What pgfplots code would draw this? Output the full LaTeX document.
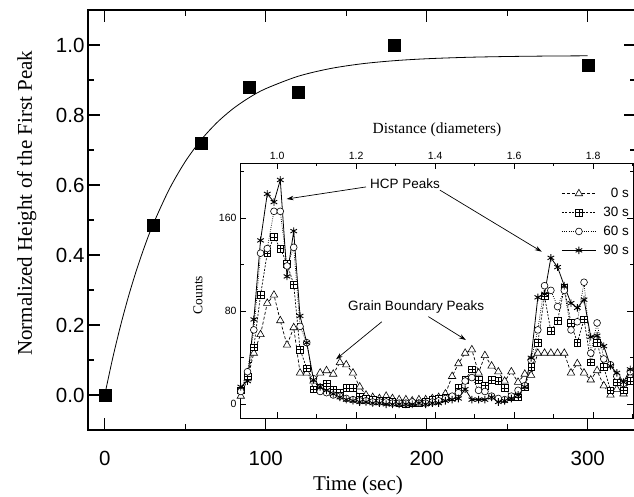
\documentclass[border=0pt]{standalone}
\usepackage{fontspec}
\setmainfont{Liberation Serif}
\setsansfont{Liberation Sans}
\usepackage{pgfplots}
\usepackage{pgfplotstable}
\pgfplotsset{compat=1.18}
\usetikzlibrary{arrows.meta}

% square with a plus inside (Origin style)
\pgfdeclareplotmark{boxplus}{%
  \pgfpathrectangle{\pgfpoint{-\pgfplotmarksize}{-\pgfplotmarksize}}{\pgfpoint{2\pgfplotmarksize}{2\pgfplotmarksize}}%
  \pgfusepathqfillstroke
  \pgfpathmoveto{\pgfpoint{-\pgfplotmarksize}{0pt}}\pgfpathlineto{\pgfpoint{\pgfplotmarksize}{0pt}}%
  \pgfpathmoveto{\pgfpoint{0pt}{-\pgfplotmarksize}}\pgfpathlineto{\pgfpoint{0pt}{\pgfplotmarksize}}%
  \pgfusepathqstroke}

% inset: counts vs distance, for 0, 30, 60, 90 s
\pgfplotstableread{
d     s0  s30 s60 s90
0.908  7  12  11  15
0.925 22  24  28  20
0.941 44  49  64  73
0.958 60  94 130 141
0.975 87 130 134 181
0.992 94 144 166 174
1.008 72 134 166 193
1.025 51 121 119 110
1.042 66 103 135 149
1.058 27  47  67  76
1.075 27  31  53  53
1.092 20  13  22  21
1.109 27  14  11  15
1.125 29  18  10  12
1.142 26  13   8   9
1.159 36  10   7   6
1.175 34  14   5   4
1.192 27  14   4   3
1.209 15   7   3   2
1.225  8   5   3   2
1.242  6   4   2   1
1.259  5   3   2   1
1.276  7   3   2   0
1.292  5   2   1   0
1.309  4   1   1   0
1.326  4   0   1   0
1.342  3   1   2   0
1.359  4   1   1   1
1.376  4   2   1   0
1.393  5   4   2   1
1.409  6   5   3   1
1.426  9   6   5   3
1.443 24   6   7   4
1.459 35  14  10   5
1.476 44  21  20  13
1.493 47  30  23   4
1.510 27  21  12   4
1.526 42  16  11   4
1.543 33  21   7   6
1.560 28  20   5   2
1.576 20  14   4   3
1.593 28   6   7   5
1.610 19   6  12   8
1.627 26  15  16  15
1.643 25  32  38  40
1.660 44  53  64  92
1.677 44  93 102  95
1.693 44  63  98 126
1.710 44  72  84 118
1.727 44 100  98 102
1.744 27  70  64  87
1.760 35  53  71  83
1.777 27  73 105  90
1.794 21  36  44  58
1.810 29  53  70  59
1.827 16  32  39  50
1.844  8  12  34  33
1.860 13  19  24  27
1.877  9  12  18  19
1.894 24  20  28  30
}\peaks

\begin{document}
\begin{tikzpicture}
\path[use as bounding box] (0,0) rectangle (634pt,497pt);

\begin{axis}[
  at={(88pt,67pt)}, anchor=south west,
  scale only axis, width=548pt, height=420pt,
  xmin=-10.4, xmax=330, ymin=-0.1, ymax=1.1,
  xtick={0,100,200,300}, minor xtick={50,150,250},
  ytick={0,0.2,0.4,0.6,0.8,1.0}, minor ytick={0.1,0.3,0.5,0.7,0.9},
  tick align=inside, tick pos=both,
  major tick length=12pt, minor tick length=6pt,
  axis line style={line width=1.2pt},
  tick style={line width=1.1pt, black},
  ticklabel style={font=\sffamily\fontsize{20.5}{23}\selectfont},
  /pgf/number format/assume math mode=true,
  yticklabel style={/pgf/number format/.cd, fixed, fixed zerofill, precision=1},
  xticklabel style={yshift=-18pt},
  xlabel={Time (sec)},
  ylabel={Normalized Height of the First Peak},
  label style={font=\fontsize{21}{24}\selectfont},
  xlabel style={at={(axis description cs:0.4927,-0.131)}, anchor=center},
  ylabel style={at={(axis description cs:-0.112,0.54)}, anchor=center},
]
\addplot[black, line width=0.8pt, smooth] coordinates {
  (0,0) (5,0.1065) (10,0.2013) (15,0.2857) (20,0.3607) (25,0.4277)
  (30,0.4872) (40,0.5873) (50,0.6668) (60,0.7297) (70,0.7796) (80,0.8191)
  (90,0.8504) (100,0.8752) (120,0.9105) (140,0.9326) (160,0.9465)
  (180,0.9552) (200,0.9607) (225,0.9648) (250,0.9671) (275,0.9684) (300,0.9691)
};
\addplot[only marks, mark=square*, mark size=6pt, black] coordinates {
  (0,0) (30,0.485) (60,0.72) (90,0.878) (120,0.866) (180,0.998) (300,0.943)
};
\end{axis}

\begin{axis}[
  at={(240pt,79pt)}, anchor=south west,
  scale only axis, width=393pt, height=255pt,
  xmin=0.906, xmax=1.901, ymin=-11.8, ymax=207.6,
  axis background/.style={fill=white},
  xtick={1.0,1.2,1.4,1.6,1.8}, minor xtick={1.1,1.3,1.5,1.7,1.9},
  ytick={0,80,160}, minor ytick={40,120,200},
  tick align=inside, tick pos=both, xticklabel pos=upper,
  major tick length=6pt, minor tick length=3.5pt,
  axis line style={line width=0.9pt},
  tick style={line width=0.8pt, black},
  ticklabel style={font=\sffamily\fontsize{10.5}{12}\selectfont},
  /pgf/number format/assume math mode=true,
  xticklabel style={/pgf/number format/.cd, fixed, fixed zerofill, precision=1},
  xlabel={Distance (diameters)},
  ylabel={Counts},
  xlabel style={font=\fontsize{15.5}{18}\selectfont, at={(axis description cs:0.501,1.129)}, anchor=center},
  ylabel style={font=\fontsize{13.5}{15}\selectfont, at={(axis description cs:-0.107,0.482)}, anchor=center},
  legend style={draw=none, fill=none, at={(axis description cs:0.995,0.91)}, anchor=north east,
    font=\sffamily\fontsize{13.5}{15}\selectfont, row sep=4pt, column sep=5pt, inner sep=0pt},
  legend cell align=right,
  legend image code/.code={\draw[mark repeat=2, mark phase=2, #1] plot coordinates {(0pt,0pt) (17pt,0pt) (34pt,0pt)};},
]
\addplot[black, line width=0.7pt, dash pattern=on 3pt off 2pt, mark=triangle*, mark size=4.3pt,
  mark options={solid, fill=white, line width=0.6pt}] table[x=d, y=s0] {\peaks};
\addlegendentry{0 s}
\addplot[black, line width=0.7pt, dash pattern=on 2pt off 1.5pt, mark=boxplus, mark size=3.3pt,
  mark options={solid, fill=white, line width=0.6pt}] table[x=d, y=s30] {\peaks};
\addlegendentry{30 s}
\addplot[black, line width=0.7pt, dash pattern=on 0.8pt off 1.4pt, mark=*, mark size=3.4pt,
  mark options={solid, fill=white, line width=0.6pt}] table[x=d, y=s60] {\peaks};
\addlegendentry{60 s}
\addplot[black, line width=0.8pt, solid, mark=asterisk, mark size=3.8pt,
  mark options={solid, line width=0.9pt}] table[x=d, y=s90] {\peaks};
\addlegendentry{90 s}

\node[font=\sffamily\fontsize{13.5}{15}\selectfont] at (axis cs:1.324,189.5) {HCP Peaks};
\draw[-{Stealth[length=7pt,width=4.5pt]}, line width=0.7pt] (axis cs:1.225,187) -- (axis cs:1.024,176.6);
\draw[-{Stealth[length=7pt,width=4.5pt]}, line width=0.7pt] (axis cs:1.412,184.3) -- (axis cs:1.670,131.3);
\node[font=\sffamily\fontsize{13.5}{15}\selectfont] at (axis cs:1.352,83.8) {Grain Boundary Peaks};
\draw[-{Stealth[length=7pt,width=4.5pt]}, line width=0.7pt] (axis cs:1.265,71) -- (axis cs:1.149,38.7);
\draw[-{Stealth[length=7pt,width=4.5pt]}, line width=0.7pt] (axis cs:1.383,75.4) -- (axis cs:1.478,55.3);
\end{axis}
\end{tikzpicture}
\end{document}
